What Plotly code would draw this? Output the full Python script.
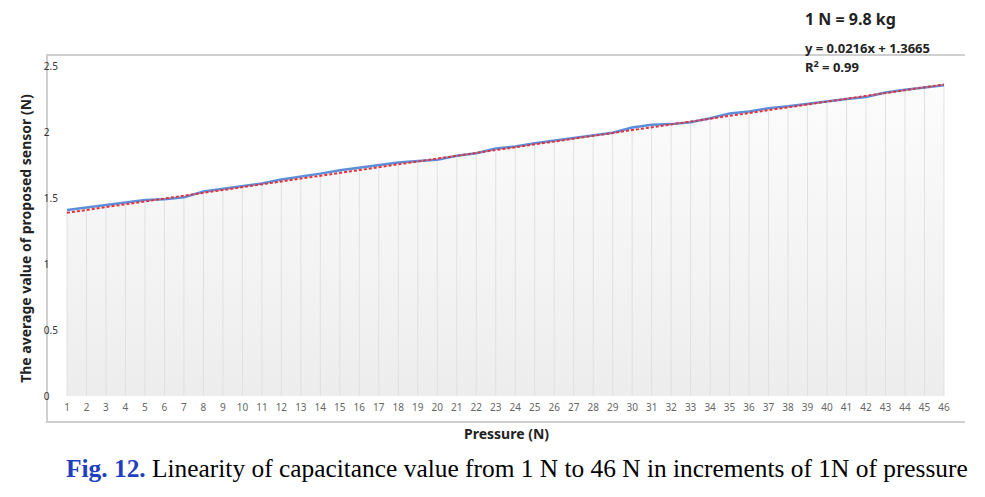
import plotly.graph_objects as go

pressure = list(range(1, 47))
sensor_avg = [1.41, 1.43, 1.45, 1.47, 1.485, 1.49, 1.505, 1.55, 1.57, 1.59,
              1.61, 1.64, 1.66, 1.685, 1.71, 1.73, 1.745, 1.77, 1.78, 1.79,
              1.82, 1.84, 1.875, 1.89, 1.915, 1.935, 1.96, 1.98, 1.995, 2.035,
              2.055, 2.06, 2.075, 2.105, 2.14, 2.155, 2.18, 2.195, 2.215, 2.23,
              2.25, 2.265, 2.30, 2.32, 2.34, 2.355]
slope = 0.0216
intercept = 1.3665
trend = [slope * x + intercept for x in pressure]
y_ticks = [0, 0.5, 1, 1.5, 2, 2.5]
y_tick_labels = ["0", "0.5", "1", "1.5", "2", "2.5"]

# vertical drop lines under the curve
gx, gy = [], []
for x, v in zip(pressure, sensor_avg):
    gx += [x, x, None]
    gy += [0, v, None]

fig = go.Figure()
fig.add_trace(go.Scatter(
    x=pressure, y=sensor_avg, mode="none", fill="tozeroy",
    fillgradient=dict(type="vertical",
                      colorscale=[[0, "#ededed"], [1, "#fcfcfc"]]),
    hoverinfo="skip", showlegend=False))
fig.add_trace(go.Scatter(
    x=gx, y=gy, mode="lines", line=dict(color="#e0e0e0", width=1),
    hoverinfo="skip", showlegend=False))
fig.add_trace(go.Scatter(
    x=pressure, y=sensor_avg, mode="lines",
    line=dict(color="#5b8fd9", width=2.5), showlegend=False))
fig.add_trace(go.Scatter(
    x=pressure, y=trend, mode="lines",
    line=dict(color="#e8303a", width=2, dash="3px,2px"), showlegend=False))

font_sans = "Noto Sans, Open Sans, sans-serif"

fig.update_layout(
    width=985, height=497,
    margin=dict(l=40, r=28, t=48, b=84, autoexpand=False),
    paper_bgcolor="white", plot_bgcolor="white",
    font=dict(family=font_sans, color="#333333"),
    xaxis=dict(
        range=[0.025, 47.08], tickmode="array", tickvals=pressure,
        ticktext=[str(p) for p in pressure], automargin=False,
        showgrid=False, zeroline=False, ticks="",
        ticklabelposition="inside", ticklabelstandoff=7,
        tickfont=dict(size=10, color="#666666"),
        showline=True, mirror=True, linecolor="#cfcfcf", linewidth=1.5,
        title=dict(text="<b>Pressure (N)</b>", font=dict(size=14, color="#222222"),
                   standoff=16),
    ),
    yaxis=dict(
        range=[-0.189, 2.576], tickmode="array", tickvals=y_ticks,
        ticktext=y_tick_labels, showgrid=False, zeroline=False, ticks="",
        automargin=False,
        ticklabelposition="inside", ticklabelstandoff=-5,
        tickfont=dict(size=10, color="#333333"),
        showline=True, linecolor="#cfcfcf", linewidth=1.5,
        title=dict(text="<b>The average value of proposed sensor (N)</b>",
                   font=dict(size=14, color="#222222"), standoff=9),
    ),
    annotations=[
        dict(text="<b>1 N = 9.8 kg</b>", xref="paper", yref="paper",
             x=(803 - 48) / 917, y=1 + (56 - 19) / 365, xanchor="left", yanchor="middle",
             showarrow=False, font=dict(size=16, color="#222222", family=font_sans)),
        dict(text="<b>y = 0.0216x + 1.3665</b>", xref="paper", yref="paper",
             x=(803 - 48) / 917, y=1 + (56 - 48) / 365, xanchor="left", yanchor="middle",
             showarrow=False, font=dict(size=13, color="#222222", family=font_sans)),
        dict(text="<b>R<sup>2</sup> = 0.99</b>", xref="paper", yref="paper",
             x=(803 - 48) / 917, y=1 - (66 - 56) / 365, xanchor="left", yanchor="middle",
             showarrow=False, font=dict(size=13, color="#222222", family=font_sans)),
        dict(text="<b><span style='color:#1f3fbf'>Fig. 12.</span></b> Linearity of capacitance value from 1 N to 46 N in increments of 1N of pressure",
             xref="paper", yref="paper",
             x=(517 - 48) / 917, y=-(468 - 421) / 365, xanchor="center", yanchor="middle",
             showarrow=False, font=dict(size=25.4, color="#000000",
                                        family="Liberation Serif, Times New Roman, serif")),
    ],
)

fig.write_html("out.html")
